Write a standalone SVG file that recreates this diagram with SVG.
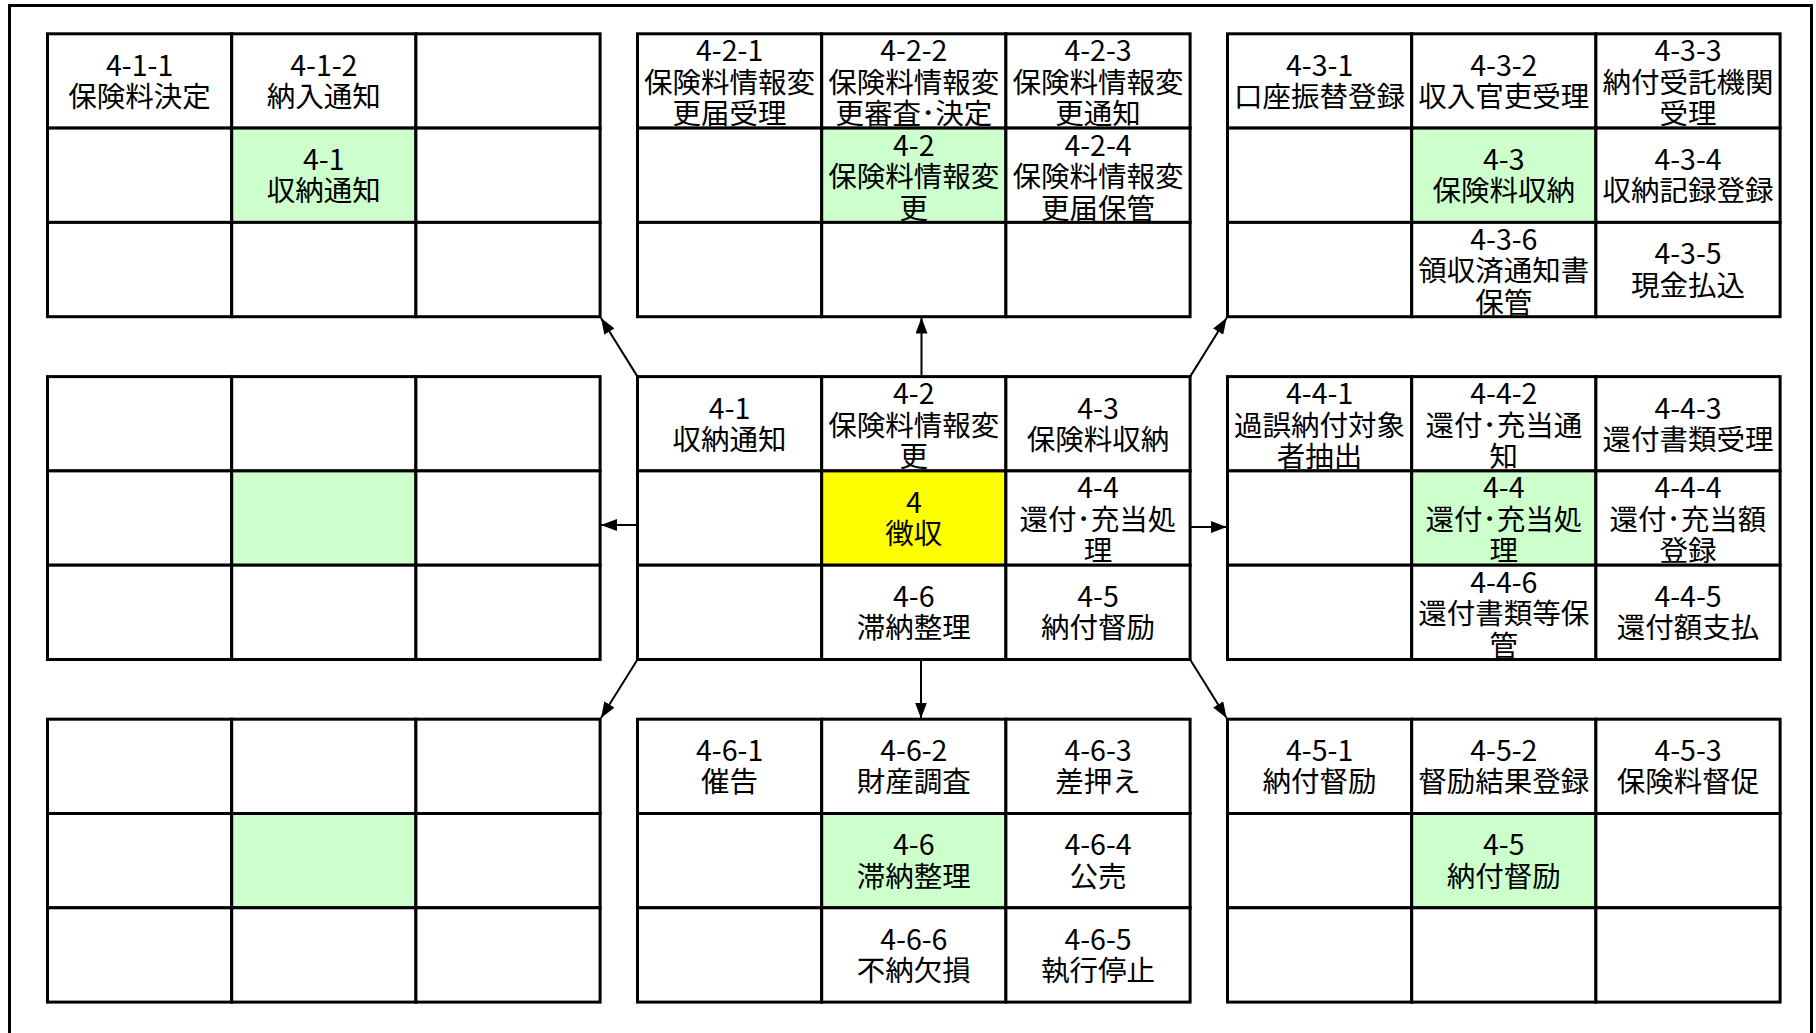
<svg xmlns="http://www.w3.org/2000/svg" width="1816" height="1033" viewBox="0 0 1816 1033">
<style>
.c{fill:#fff;stroke:#000;stroke-width:3}
.g{fill:#CCFFCC;stroke:#000;stroke-width:3}
.y{fill:#FFFF00;stroke:#000;stroke-width:3}
text{font-family:"Noto Sans CJK JP","Noto Sans CJK SC",sans-serif;font-size:28.5px;text-anchor:middle;fill:#000}
.a{stroke:#000;stroke-width:2;fill:none;marker-end:url(#ah)}
</style>
<defs>
<marker id="ah" markerUnits="userSpaceOnUse" markerWidth="16" markerHeight="12" refX="16" refY="6" orient="auto"><path d="M0,0 L16,6 L0,12 z" fill="#000"/></marker>
</defs>
<rect x="9.5" y="5.5" width="1802" height="1100" fill="#fff" stroke="#000" stroke-width="3"/>

<!-- Block 4-1 (top-left) -->
<g id="b41">
<g id="c411"><rect class="c" x="47.5" y="33.8" width="184.2" height="94.3"/><text><tspan x="139.6" y="75.75">4-1-1</tspan><tspan x="139.6" y="106.95">保険料決定</tspan></text></g>
<g id="c412"><rect class="c" x="231.7" y="33.8" width="184.2" height="94.3"/><text><tspan x="323.8" y="75.75">4-1-2</tspan><tspan x="323.8" y="106.95">納入通知</tspan></text></g>
<g id="b41-r0c2"><rect class="c" x="415.9" y="33.8" width="184.2" height="94.3"/></g>
<g id="b41-r1c0"><rect class="c" x="47.5" y="128.1" width="184.2" height="94.3"/></g>
<g id="c41"><rect class="g" x="231.7" y="128.1" width="184.2" height="94.3"/><text><tspan x="323.8" y="170.05">4-1</tspan><tspan x="323.8" y="201.25">収納通知</tspan></text></g>
<g id="b41-r1c2"><rect class="c" x="415.9" y="128.1" width="184.2" height="94.3"/></g>
<g id="b41-r2c0"><rect class="c" x="47.5" y="222.4" width="184.2" height="94.3"/></g>
<g id="b41-r2c1"><rect class="c" x="231.7" y="222.4" width="184.2" height="94.3"/></g>
<g id="b41-r2c2"><rect class="c" x="415.9" y="222.4" width="184.2" height="94.3"/></g>
</g>

<!-- Block 4-2 (top-middle) -->
<g id="b42">
<g id="c421"><rect class="c" x="637.5" y="33.8" width="184.2" height="94.3"/><text><tspan x="729.6" y="61.25">4-2-1</tspan><tspan x="729.6" y="92.75">保険料情報変</tspan><tspan x="729.6" y="124.25">更届受理</tspan></text></g>
<g id="c422"><rect class="c" x="821.7" y="33.8" width="184.2" height="94.3"/><text><tspan x="913.8" y="61.25">4-2-2</tspan><tspan x="913.8" y="92.75">保険料情報変</tspan><tspan x="913.8" y="124.25">更審査･決定</tspan></text></g>
<g id="c423"><rect class="c" x="1005.9" y="33.8" width="184.2" height="94.3"/><text><tspan x="1098" y="61.25">4-2-3</tspan><tspan x="1098" y="92.75">保険料情報変</tspan><tspan x="1098" y="124.25">更通知</tspan></text></g>
<g id="b42-r1c0"><rect class="c" x="637.5" y="128.1" width="184.2" height="94.3"/></g>
<g id="c42"><rect class="g" x="821.7" y="128.1" width="184.2" height="94.3"/><text><tspan x="913.8" y="155.55">4-2</tspan><tspan x="913.8" y="187.05">保険料情報変</tspan><tspan x="913.8" y="218.55">更</tspan></text></g>
<g id="c424"><rect class="c" x="1005.9" y="128.1" width="184.2" height="94.3"/><text><tspan x="1098" y="155.55">4-2-4</tspan><tspan x="1098" y="187.05">保険料情報変</tspan><tspan x="1098" y="218.55">更届保管</tspan></text></g>
<g id="b42-r2c0"><rect class="c" x="637.5" y="222.4" width="184.2" height="94.3"/></g>
<g id="b42-r2c1"><rect class="c" x="821.7" y="222.4" width="184.2" height="94.3"/></g>
<g id="b42-r2c2"><rect class="c" x="1005.9" y="222.4" width="184.2" height="94.3"/></g>
</g>

<!-- Block 4-3 (top-right) -->
<g id="b43">
<g id="c431"><rect class="c" x="1227.5" y="33.8" width="184.2" height="94.3"/><text><tspan x="1319.6" y="75.75">4-3-1</tspan><tspan x="1319.6" y="106.95">口座振替登録</tspan></text></g>
<g id="c432"><rect class="c" x="1411.7" y="33.8" width="184.2" height="94.3"/><text><tspan x="1503.8" y="75.75">4-3-2</tspan><tspan x="1503.8" y="106.95">収入官吏受理</tspan></text></g>
<g id="c433"><rect class="c" x="1595.9" y="33.8" width="184.2" height="94.3"/><text><tspan x="1688" y="61.25">4-3-3</tspan><tspan x="1688" y="92.75">納付受託機関</tspan><tspan x="1688" y="124.25">受理</tspan></text></g>
<g id="b43-r1c0"><rect class="c" x="1227.5" y="128.1" width="184.2" height="94.3"/></g>
<g id="c43"><rect class="g" x="1411.7" y="128.1" width="184.2" height="94.3"/><text><tspan x="1503.8" y="170.05">4-3</tspan><tspan x="1503.8" y="201.25">保険料収納</tspan></text></g>
<g id="c434"><rect class="c" x="1595.9" y="128.1" width="184.2" height="94.3"/><text><tspan x="1688" y="170.05">4-3-4</tspan><tspan x="1688" y="201.25">収納記録登録</tspan></text></g>
<g id="b43-r2c0"><rect class="c" x="1227.5" y="222.4" width="184.2" height="94.3"/></g>
<g id="c436"><rect class="c" x="1411.7" y="222.4" width="184.2" height="94.3"/><text><tspan x="1503.8" y="249.85">4-3-6</tspan><tspan x="1503.8" y="281.35">領収済通知書</tspan><tspan x="1503.8" y="312.85">保管</tspan></text></g>
<g id="c435"><rect class="c" x="1595.9" y="222.4" width="184.2" height="94.3"/><text><tspan x="1688" y="264.35">4-3-5</tspan><tspan x="1688" y="295.55">現金払込</tspan></text></g>
</g>

<!-- Block middle-left (empty) -->
<g id="bml">
<g id="bml-r0c0"><rect class="c" x="47.5" y="376.6" width="184.2" height="94.3"/></g>
<g id="bml-r0c1"><rect class="c" x="231.7" y="376.6" width="184.2" height="94.3"/></g>
<g id="bml-r0c2"><rect class="c" x="415.9" y="376.6" width="184.2" height="94.3"/></g>
<g id="bml-r1c0"><rect class="c" x="47.5" y="470.9" width="184.2" height="94.3"/></g>
<g id="bml-r1c1"><rect class="g" x="231.7" y="470.9" width="184.2" height="94.3"/></g>
<g id="bml-r1c2"><rect class="c" x="415.9" y="470.9" width="184.2" height="94.3"/></g>
<g id="bml-r2c0"><rect class="c" x="47.5" y="565.2" width="184.2" height="94.3"/></g>
<g id="bml-r2c1"><rect class="c" x="231.7" y="565.2" width="184.2" height="94.3"/></g>
<g id="bml-r2c2"><rect class="c" x="415.9" y="565.2" width="184.2" height="94.3"/></g>
</g>

<!-- Center block 4 -->
<g id="b4">
<g id="m41"><rect class="c" x="637.5" y="376.6" width="184.2" height="94.3"/><text><tspan x="729.6" y="418.55">4-1</tspan><tspan x="729.6" y="449.75">収納通知</tspan></text></g>
<g id="m42"><rect class="c" x="821.7" y="376.6" width="184.2" height="94.3"/><text><tspan x="913.8" y="404.05">4-2</tspan><tspan x="913.8" y="435.55">保険料情報変</tspan><tspan x="913.8" y="467.05">更</tspan></text></g>
<g id="m43"><rect class="c" x="1005.9" y="376.6" width="184.2" height="94.3"/><text><tspan x="1098" y="418.55">4-3</tspan><tspan x="1098" y="449.75">保険料収納</tspan></text></g>
<g id="b4-r1c0"><rect class="c" x="637.5" y="470.9" width="184.2" height="94.3"/></g>
<g id="m4"><rect class="y" x="821.7" y="470.9" width="184.2" height="94.3"/><text><tspan x="913.8" y="512.85">4</tspan><tspan x="913.8" y="544.05">徴収</tspan></text></g>
<g id="m44"><rect class="c" x="1005.9" y="470.9" width="184.2" height="94.3"/><text><tspan x="1098" y="498.35">4-4</tspan><tspan x="1098" y="529.85">還付･充当処</tspan><tspan x="1098" y="561.35">理</tspan></text></g>
<g id="b4-r2c0"><rect class="c" x="637.5" y="565.2" width="184.2" height="94.3"/></g>
<g id="m46"><rect class="c" x="821.7" y="565.2" width="184.2" height="94.3"/><text><tspan x="913.8" y="607.15">4-6</tspan><tspan x="913.8" y="638.35">滞納整理</tspan></text></g>
<g id="m45"><rect class="c" x="1005.9" y="565.2" width="184.2" height="94.3"/><text><tspan x="1098" y="607.15">4-5</tspan><tspan x="1098" y="638.35">納付督励</tspan></text></g>
</g>

<!-- Block 4-4 (middle-right) -->
<g id="b44">
<g id="c441"><rect class="c" x="1227.5" y="376.6" width="184.2" height="94.3"/><text><tspan x="1319.6" y="404.05">4-4-1</tspan><tspan x="1319.6" y="435.55">過誤納付対象</tspan><tspan x="1319.6" y="467.05">者抽出</tspan></text></g>
<g id="c442"><rect class="c" x="1411.7" y="376.6" width="184.2" height="94.3"/><text><tspan x="1503.8" y="404.05">4-4-2</tspan><tspan x="1503.8" y="435.55">還付･充当通</tspan><tspan x="1503.8" y="467.05">知</tspan></text></g>
<g id="c443"><rect class="c" x="1595.9" y="376.6" width="184.2" height="94.3"/><text><tspan x="1688" y="418.55">4-4-3</tspan><tspan x="1688" y="449.75">還付書類受理</tspan></text></g>
<g id="b44-r1c0"><rect class="c" x="1227.5" y="470.9" width="184.2" height="94.3"/></g>
<g id="c44"><rect class="g" x="1411.7" y="470.9" width="184.2" height="94.3"/><text><tspan x="1503.8" y="498.35">4-4</tspan><tspan x="1503.8" y="529.85">還付･充当処</tspan><tspan x="1503.8" y="561.35">理</tspan></text></g>
<g id="c444"><rect class="c" x="1595.9" y="470.9" width="184.2" height="94.3"/><text><tspan x="1688" y="498.35">4-4-4</tspan><tspan x="1688" y="529.85">還付･充当額</tspan><tspan x="1688" y="561.35">登録</tspan></text></g>
<g id="b44-r2c0"><rect class="c" x="1227.5" y="565.2" width="184.2" height="94.3"/></g>
<g id="c446"><rect class="c" x="1411.7" y="565.2" width="184.2" height="94.3"/><text><tspan x="1503.8" y="592.65">4-4-6</tspan><tspan x="1503.8" y="624.15">還付書類等保</tspan><tspan x="1503.8" y="655.65">管</tspan></text></g>
<g id="c445"><rect class="c" x="1595.9" y="565.2" width="184.2" height="94.3"/><text><tspan x="1688" y="607.15">4-4-5</tspan><tspan x="1688" y="638.35">還付額支払</tspan></text></g>
</g>

<!-- Block bottom-left (empty) -->
<g id="bbl">
<g id="bbl-r0c0"><rect class="c" x="47.5" y="719.2" width="184.2" height="94.3"/></g>
<g id="bbl-r0c1"><rect class="c" x="231.7" y="719.2" width="184.2" height="94.3"/></g>
<g id="bbl-r0c2"><rect class="c" x="415.9" y="719.2" width="184.2" height="94.3"/></g>
<g id="bbl-r1c0"><rect class="c" x="47.5" y="813.5" width="184.2" height="94.3"/></g>
<g id="bbl-r1c1"><rect class="g" x="231.7" y="813.5" width="184.2" height="94.3"/></g>
<g id="bbl-r1c2"><rect class="c" x="415.9" y="813.5" width="184.2" height="94.3"/></g>
<g id="bbl-r2c0"><rect class="c" x="47.5" y="907.8" width="184.2" height="94.3"/></g>
<g id="bbl-r2c1"><rect class="c" x="231.7" y="907.8" width="184.2" height="94.3"/></g>
<g id="bbl-r2c2"><rect class="c" x="415.9" y="907.8" width="184.2" height="94.3"/></g>
</g>

<!-- Block 4-6 (bottom-middle) -->
<g id="b46">
<g id="c461"><rect class="c" x="637.5" y="719.2" width="184.2" height="94.3"/><text><tspan x="729.6" y="761.15">4-6-1</tspan><tspan x="729.6" y="792.35">催告</tspan></text></g>
<g id="c462"><rect class="c" x="821.7" y="719.2" width="184.2" height="94.3"/><text><tspan x="913.8" y="761.15">4-6-2</tspan><tspan x="913.8" y="792.35">財産調査</tspan></text></g>
<g id="c463"><rect class="c" x="1005.9" y="719.2" width="184.2" height="94.3"/><text><tspan x="1098" y="761.15">4-6-3</tspan><tspan x="1098" y="792.35">差押え</tspan></text></g>
<g id="b46-r1c0"><rect class="c" x="637.5" y="813.5" width="184.2" height="94.3"/></g>
<g id="c46"><rect class="g" x="821.7" y="813.5" width="184.2" height="94.3"/><text><tspan x="913.8" y="855.45">4-6</tspan><tspan x="913.8" y="886.65">滞納整理</tspan></text></g>
<g id="c464"><rect class="c" x="1005.9" y="813.5" width="184.2" height="94.3"/><text><tspan x="1098" y="855.45">4-6-4</tspan><tspan x="1098" y="886.65">公売</tspan></text></g>
<g id="b46-r2c0"><rect class="c" x="637.5" y="907.8" width="184.2" height="94.3"/></g>
<g id="c466"><rect class="c" x="821.7" y="907.8" width="184.2" height="94.3"/><text><tspan x="913.8" y="949.75">4-6-6</tspan><tspan x="913.8" y="980.95">不納欠損</tspan></text></g>
<g id="c465"><rect class="c" x="1005.9" y="907.8" width="184.2" height="94.3"/><text><tspan x="1098" y="949.75">4-6-5</tspan><tspan x="1098" y="980.95">執行停止</tspan></text></g>
</g>

<!-- Block 4-5 (bottom-right) -->
<g id="b45">
<g id="c451"><rect class="c" x="1227.5" y="719.2" width="184.2" height="94.3"/><text><tspan x="1319.6" y="761.15">4-5-1</tspan><tspan x="1319.6" y="792.35">納付督励</tspan></text></g>
<g id="c452"><rect class="c" x="1411.7" y="719.2" width="184.2" height="94.3"/><text><tspan x="1503.8" y="761.15">4-5-2</tspan><tspan x="1503.8" y="792.35">督励結果登録</tspan></text></g>
<g id="c453"><rect class="c" x="1595.9" y="719.2" width="184.2" height="94.3"/><text><tspan x="1688" y="761.15">4-5-3</tspan><tspan x="1688" y="792.35">保険料督促</tspan></text></g>
<g id="b45-r1c0"><rect class="c" x="1227.5" y="813.5" width="184.2" height="94.3"/></g>
<g id="c45"><rect class="g" x="1411.7" y="813.5" width="184.2" height="94.3"/><text><tspan x="1503.8" y="855.45">4-5</tspan><tspan x="1503.8" y="886.65">納付督励</tspan></text></g>
<g id="b45-r1c2"><rect class="c" x="1595.9" y="813.5" width="184.2" height="94.3"/></g>
<g id="b45-r2c0"><rect class="c" x="1227.5" y="907.8" width="184.2" height="94.3"/></g>
<g id="b45-r2c1"><rect class="c" x="1411.7" y="907.8" width="184.2" height="94.3"/></g>
<g id="b45-r2c2"><rect class="c" x="1595.9" y="907.8" width="184.2" height="94.3"/></g>
</g>

<!-- Connectors -->
<g id="connectors">
<line class="a" x1="921.5" y1="375" x2="921.5" y2="317.5"/>
<line class="a" x1="921" y1="661" x2="921" y2="718.5"/>
<line class="a" x1="637.5" y1="525" x2="601" y2="525"/>
<line class="a" x1="1190.1" y1="527" x2="1226.8" y2="527"/>
<line class="a" x1="637.5" y1="376.6" x2="601" y2="318"/>
<line class="a" x1="1190.1" y1="376.6" x2="1226.6" y2="318"/>
<line class="a" x1="637.5" y1="659.5" x2="601" y2="718"/>
<line class="a" x1="1190.1" y1="659.5" x2="1226.6" y2="718"/>
</g>
</svg>
